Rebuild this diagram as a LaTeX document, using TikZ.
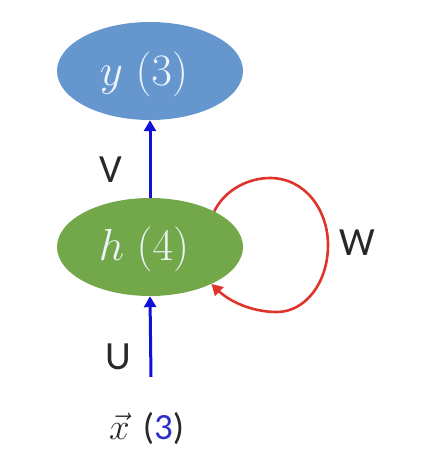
\RequirePackage{fix-cm}
\documentclass[tikz,border=0pt]{standalone}
\usepackage{fontspec}
\setsansfont{Carlito}
\usetikzlibrary{shapes.geometric,arrows.meta}
\definecolor{ellblue}{RGB}{101,151,206}
\definecolor{ellgreen}{RGB}{114,168,74}
\definecolor{arrblue}{RGB}{16,16,215}
\definecolor{loopred}{RGB}{222,52,44}
\definecolor{txtgray}{RGB}{40,40,40}
\definecolor{numblue}{RGB}{48,48,200}
\definecolor{intext}{RGB}{238,244,250}
\begin{document}
\begin{tikzpicture}[x=1pt,y=1pt,
  ell/.style={ellipse,inner sep=0pt,minimum width=186pt,minimum height=98pt},
  intxt/.style={inner sep=0pt,text=intext,font=\fontsize{45}{50}\selectfont},
  lab/.style={text=txtgray,font=\sffamily\fontsize{40}{44}\selectfont,inner sep=0pt},
  bluearr/.style={draw=arrblue,line width=3pt,-{Triangle[length=11pt,width=12pt]}},
  redarr/.style={draw=loopred,line width=2.6pt,-{Triangle[length=11pt,width=12pt]}}]
\useasboundingbox (0,0) rectangle (421,475);
\node[ell,fill=ellblue] (y) at (150,404) {};
\node[ell,fill=ellgreen] (h) at (150,228) {};
\node[intxt] (yt) at (144,401) {$y\;(3)$};
\node[intxt] (ht) at (144,226) {$h\;(4)$};
\node[lab] (V) at (111,305) {V};
\node[lab] (U) at (118,118) {U};
\node[lab] (W) at (357,232) {W};
\node[inner sep=0pt,anchor=base west,text=txtgray,font=\fontsize{37}{40}\selectfont] (x) at (109,35) {$\vec{x}$\hspace{13pt}\sffamily(\textcolor{numblue}{3})};
\coordinate (ustart) at (151,98);
\draw[bluearr] (h.north) -- (y.south);
\draw[bluearr] (ustart) -- (h.south);
\draw[redarr] (h.29) .. controls (224,284) and (247,297) .. (270,297)
  .. controls (305,297) and (328,265) .. (328,230)
  .. controls (328,192) and (305,163) .. (277,163)
  .. controls (250,163) and (228,175) .. (h.-31);
\end{tikzpicture}
\end{document}
